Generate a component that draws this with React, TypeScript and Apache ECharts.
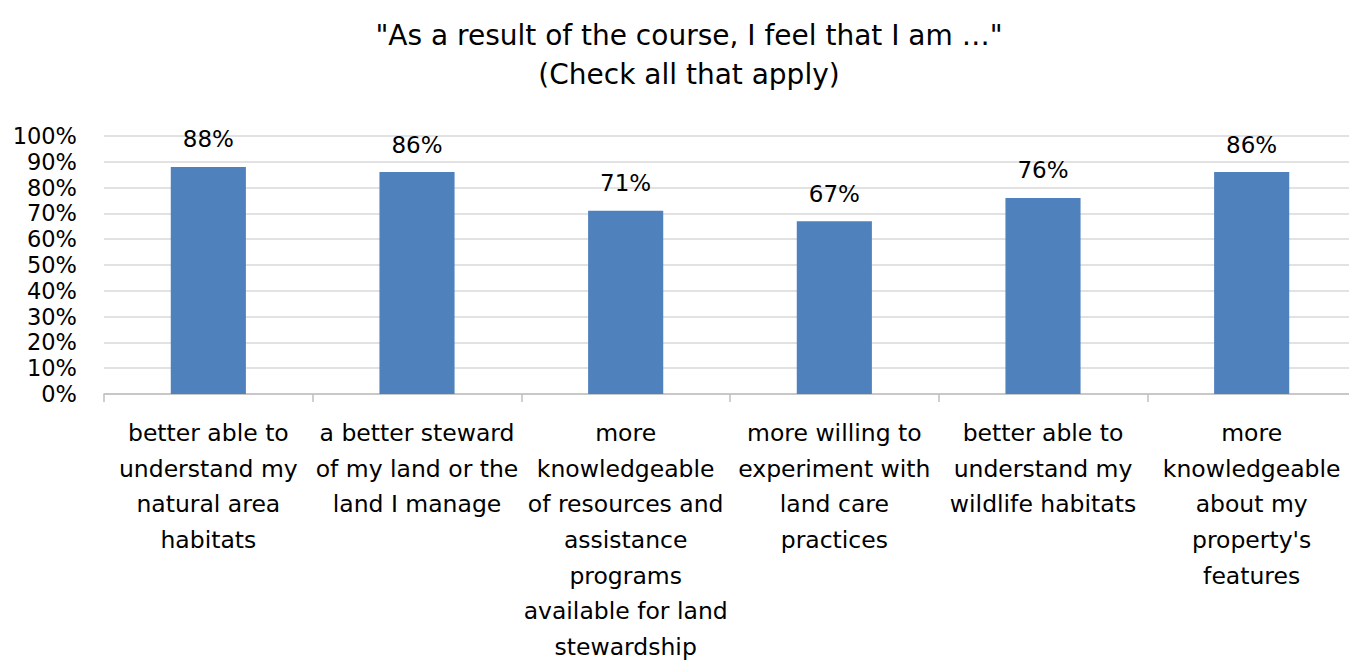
import React, { useEffect, useRef } from "react";
import * as echarts from "echarts";

const titleLines = ['"As a result of the course, I feel that I am …"', "(Check all that apply)"];
const categories = [
  "better able to\nunderstand my\nnatural area\nhabitats",
  "a better steward\nof my land or the\nland I manage",
  "more\nknowledgeable\nof resources and\nassistance\nprograms\navailable for land\nstewardship",
  "more willing to\nexperiment with\nland care\npractices",
  "better able to\nunderstand my\nwildlife habitats",
  "more\nknowledgeable\nabout my\nproperty's\nfeatures",
];
const values = [88, 86, 71, 67, 76, 86];

const FONT = "'DejaVu Sans', 'Open Sans', sans-serif";

export default function App() {
  const ref = useRef<HTMLDivElement>(null);
  useEffect(() => {
    if (!ref.current) return;
    const chart = echarts.init(ref.current, null, { renderer: "svg" });
    chart.setOption({
      animation: false,
      backgroundColor: "#ffffff",
      title: {
        text: titleLines.join("\n"),
        left: 684,
        textAlign: "center",
        top: 11,
        textStyle: { fontFamily: FONT, fontSize: 28, fontWeight: "normal", color: "#000", lineHeight: 39 },
      },
      grid: { left: 104, right: -7, top: 136, bottom: 267, containLabel: false, outerBoundsMode: "none" },
      xAxis: {
        type: "category",
        data: categories,
        axisLine: { lineStyle: { color: "#bfbfbf", width: 1.5 } },
        axisTick: { show: true, length: 8, lineStyle: { color: "#bfbfbf", width: 1.5 } },
        axisLabel: { interval: 0, margin: 21, color: "#000", fontFamily: FONT, fontSize: 23.5, lineHeight: 35.7, align: "center" },
      },
      yAxis: {
        type: "value",
        min: 0,
        max: 100,
        interval: 10,
        axisLine: { show: false },
        axisTick: { show: false },
        splitLine: { lineStyle: { color: "#d9d9d9", width: 1.5 } },
        axisLabel: { margin: 27, color: "#000", fontFamily: FONT, fontSize: 22.5, lineHeight: 22, formatter: "{value}%" },
      },
      series: [
        {
          type: "bar",
          data: values,
          barWidth: "36%",
          itemStyle: { color: "#4f81bd" },
          label: {
            show: true,
            position: "top",
            distance: 16,
            formatter: "{c}%",
            color: "#000",
            fontFamily: FONT,
            fontSize: 23,
          },
        },
      ],
    });
    return () => chart.dispose();
  }, []);
  return <div ref={ref} style={{ position: "fixed", left: 0, top: 0, width: 1349, height: 661 }} />;
}
